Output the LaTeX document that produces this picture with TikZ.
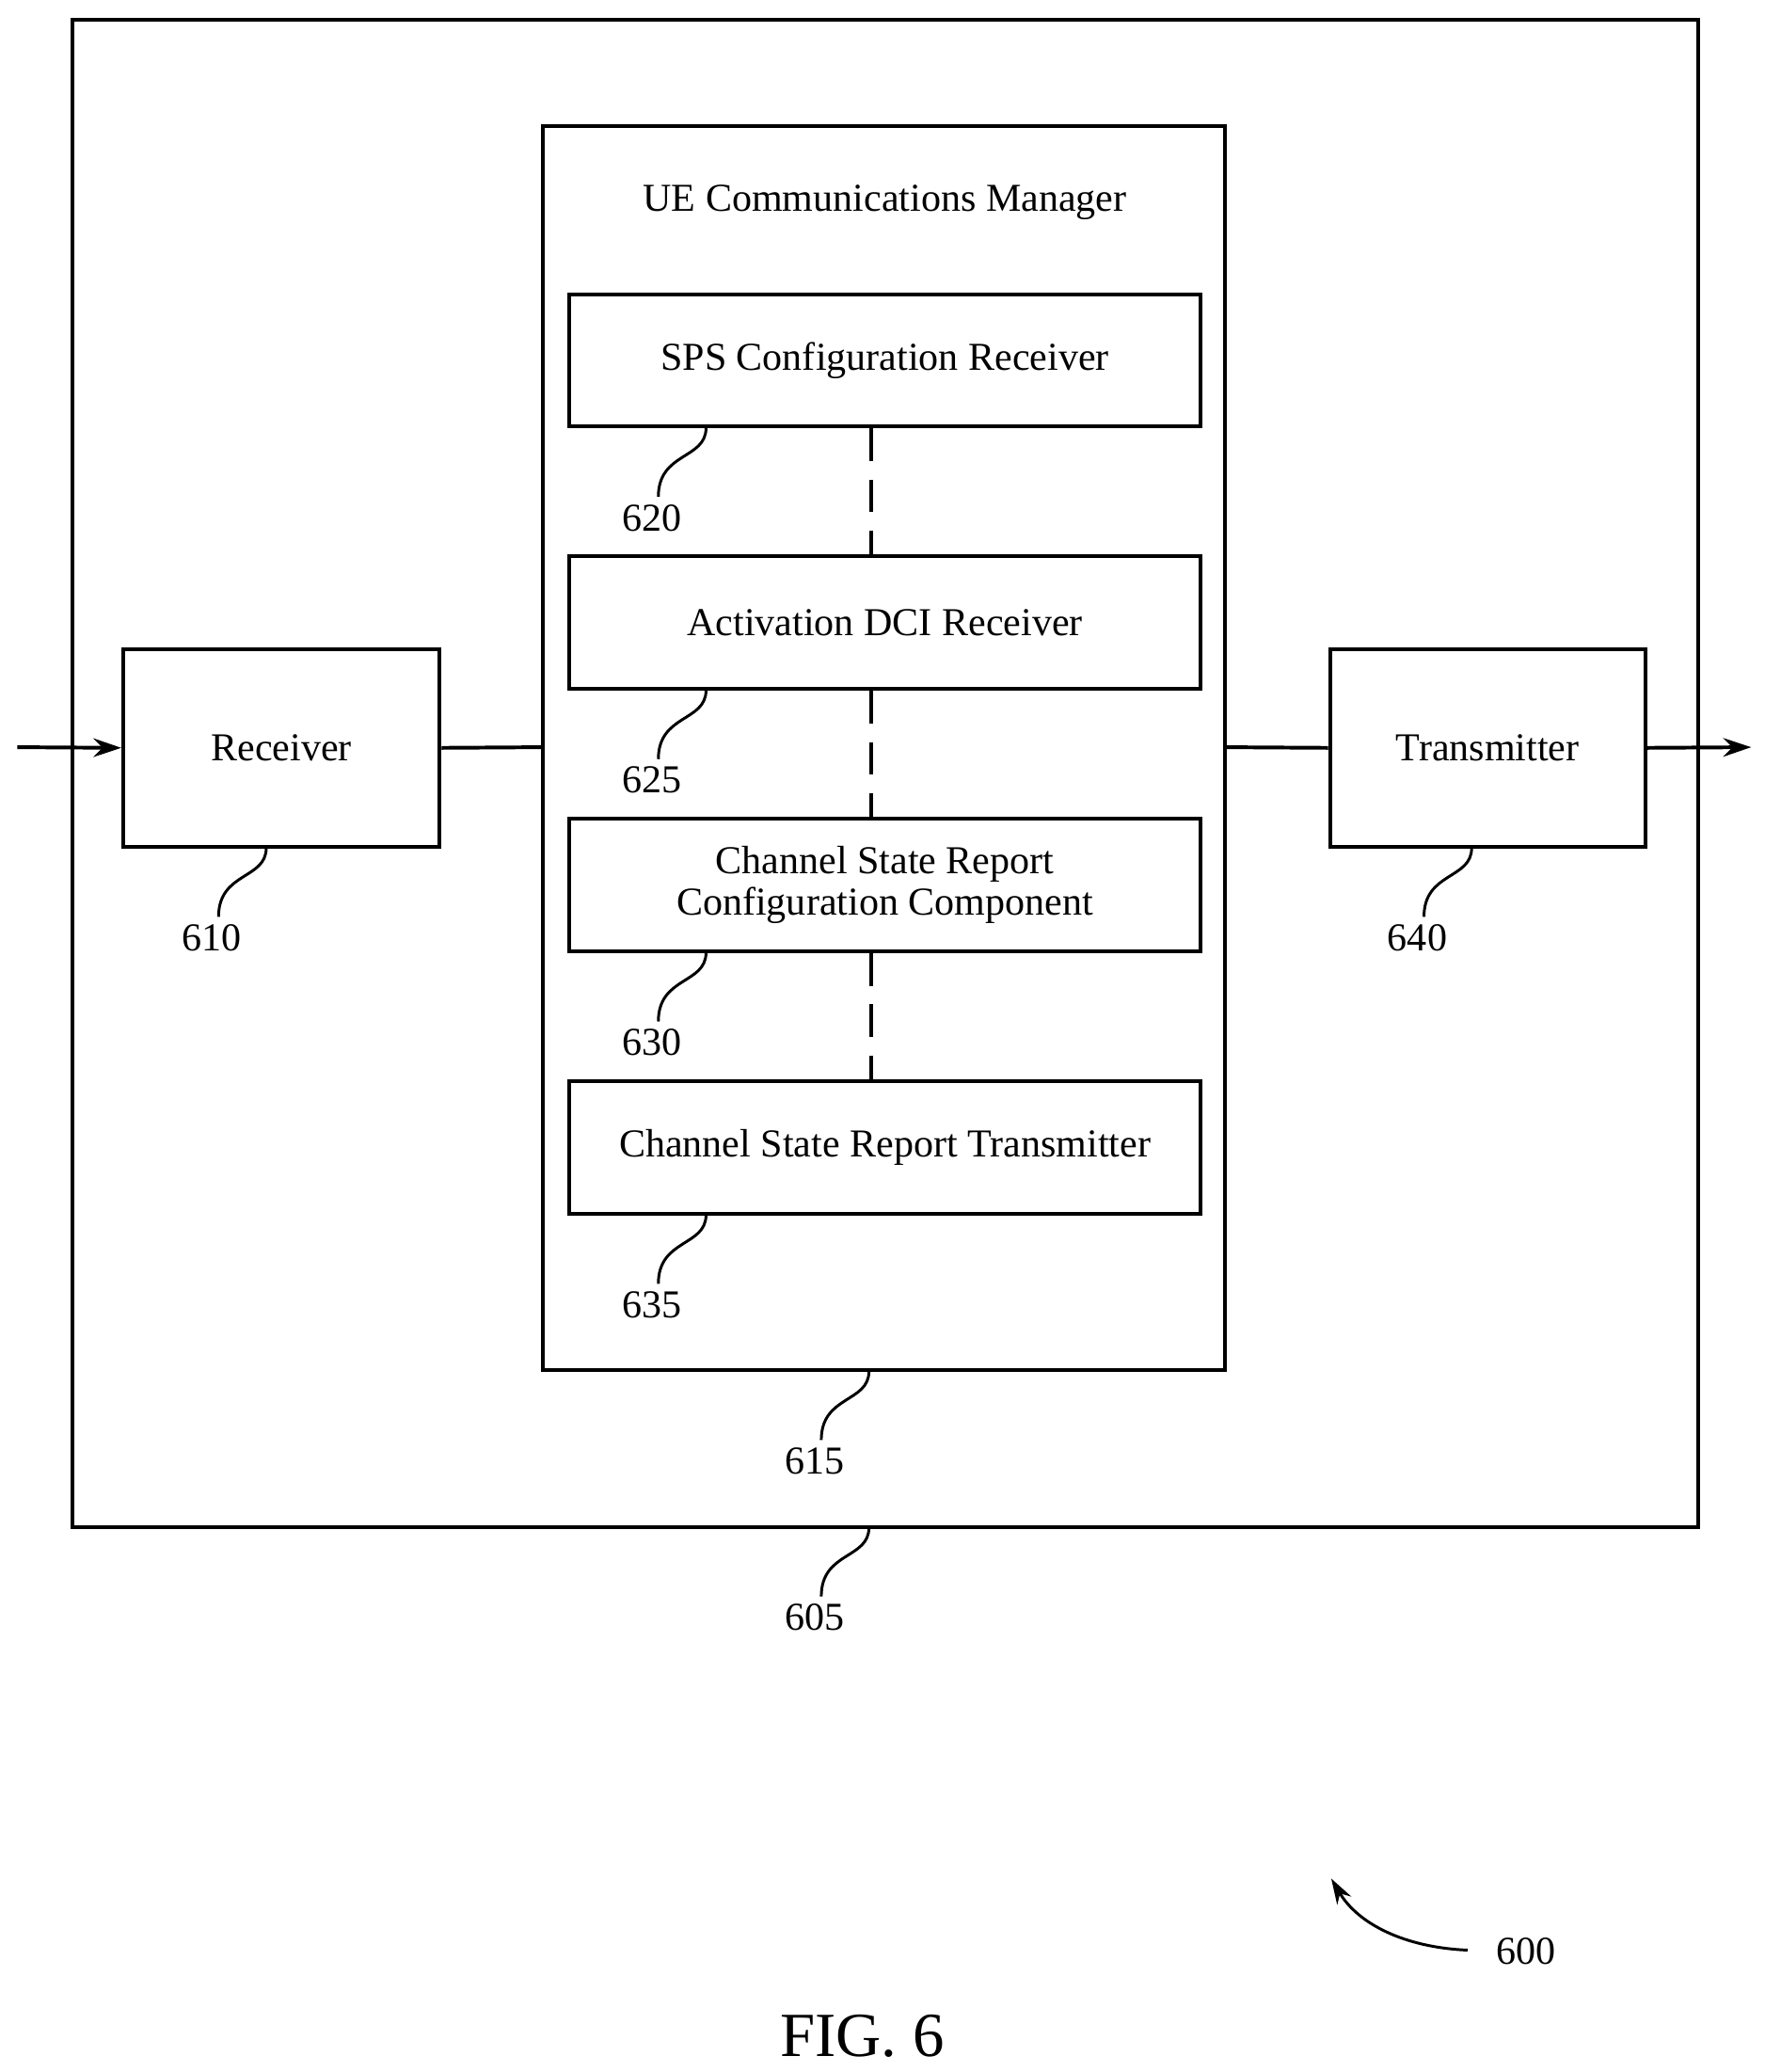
\documentclass[tikz,border=0pt]{standalone}
\usepackage{fontspec}
\setmainfont{Liberation Serif}
\usetikzlibrary{arrows.meta}
\begin{document}
\begin{tikzpicture}[x=0.02cm,y=-0.02cm,
  box/.style={draw,line width=1.6pt,inner sep=0pt},
  lbl/.style={font=\fontsize{17}{20}\selectfont},
  num/.style={font=\fontsize{17}{20}\selectfont},
  ln/.style={line width=1.6pt},
  sq/.style={line width=1.2pt}]
\useasboundingbox (0,0) rectangle (1332,1564);
\draw[box] (55,15) rectangle (1282,1153);
\draw[box] (410,95) rectangle (925,1034);
\node[lbl] (title) at (668,153) {UE Communications Manager};
\node[box,minimum width=476*0.02cm,minimum height=100*0.02cm,lbl] (sps) at (668,272) {SPS Configuration Receiver};
\node[box,minimum width=476*0.02cm,minimum height=100*0.02cm,lbl] (act) at (668,470) {Activation DCI Receiver};
\node[box,minimum width=476*0.02cm,minimum height=100*0.02cm,lbl,align=center] (csc) at (668,668) {Channel State Report\\[-2pt]Configuration Component};
\node[box,minimum width=476*0.02cm,minimum height=100*0.02cm,lbl] (cst) at (668,866) {Channel State Report Transmitter};
\draw[ln,dashed,dash pattern=on 14pt off 8pt] (sps.south -| 658,0) -- (act.north -| 658,0);
\draw[ln,dashed,dash pattern=on 14pt off 8pt] (act.south -| 658,0) -- (csc.north -| 658,0);
\draw[ln,dashed,dash pattern=on 14pt off 8pt] (csc.south -| 658,0) -- (cst.north -| 658,0);
\node[box,minimum width=239*0.02cm,minimum height=149*0.02cm,lbl] (rx) at (212.5,564.5) {Receiver};
\node[box,minimum width=238*0.02cm,minimum height=149*0.02cm,lbl] (tx) at (1123,564.5) {Transmitter};
\coordinate (in) at (13,564);
\coordinate (out) at (1322,564);
\coordinate (ml) at (410,564);
\coordinate (mr) at (925,564);
\draw[ln,-{Stealth[length=12pt,width=8pt]}] (in) -- (rx.west);
\draw[ln] (rx.east) -- (ml);
\draw[ln] (mr) -- (tx.west);
\draw[ln,-{Stealth[length=12pt,width=8pt]}] (tx.east) -- (out);
% reference numerals
\newcommand{\refnum}[4]{% top x, top y, name, text
  \draw[sq] (#1,#2) .. controls (#1,#2+24) and (#1-36,#2+18) .. (#1-36,#2+52);
  \node[num] (#3) at (#1-41,#2+68) {#4};}
\refnum{533}{323}{n620}{620}
\refnum{533}{521}{n625}{625}
\refnum{533}{719}{n630}{630}
\refnum{533}{917}{n635}{635}
\refnum{201}{640}{n610}{610}
\refnum{1111}{640}{n640}{640}
\refnum{656}{1035}{n615}{615}
\refnum{656}{1153}{n605}{605}
\node[num] (n600) at (1152,1473) {600};
\coordinate (a600) at (1005,1418);
\draw[sq,-{Stealth[length=11pt,width=7pt]}] (1108,1472) .. controls (1060,1470) and (1025,1452) .. (a600);
\node[font=\fontsize{27}{30}\selectfont] (fig) at (651,1537) {FIG. 6};
\end{tikzpicture}
\end{document}
